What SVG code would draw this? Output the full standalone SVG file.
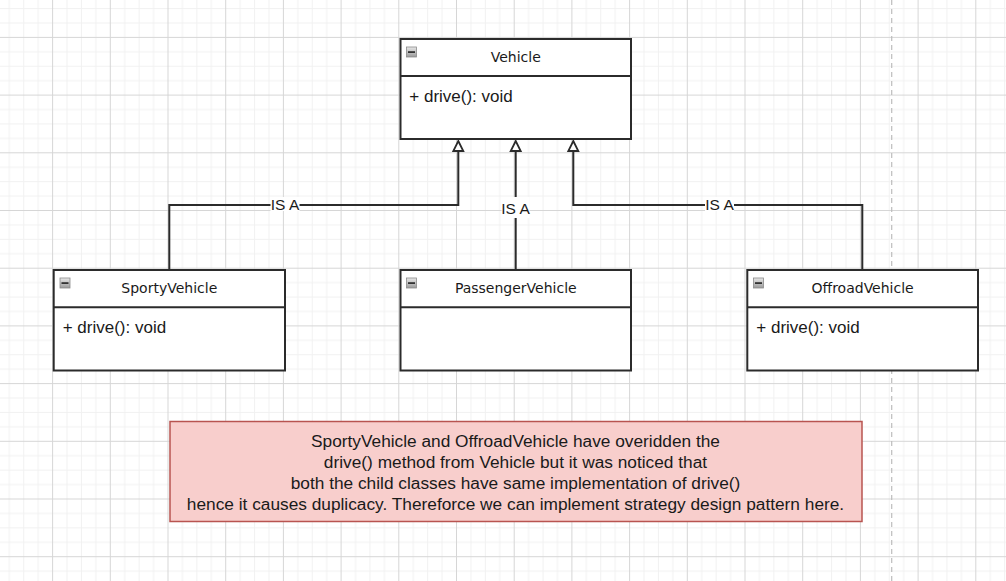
<svg xmlns="http://www.w3.org/2000/svg" width="1006" height="581" viewBox="0 0 1006 581">
  <defs>
    <pattern id="grid" x="52.1" y="36.9" width="57.7" height="57.7" patternUnits="userSpaceOnUse">
      <path d="M14.925 0V57.7M29.35 0V57.7M43.775 0V57.7M0 14.925H57.7M0 29.35H57.7M0 43.775H57.7" stroke="#f1f1f1" stroke-width="1" fill="none"/>
      <path d="M0.5 0V57.7M0 0.5H57.7" stroke="#d6d6d6" stroke-width="1" fill="none"/>
    </pattern>
    <linearGradient id="iconGrad" x1="0" y1="0" x2="0" y2="1">
      <stop offset="0" stop-color="#e8e8e8"/>
      <stop offset="1" stop-color="#9a9a9a"/>
    </linearGradient>
    <g id="minus">
      <rect x="0" y="0" width="10" height="10" fill="url(#iconGrad)" stroke="#8a8a8a" stroke-width="0.8"/>
      <rect x="1.5" y="4.2" width="7" height="1.8" fill="#333"/>
    </g>
    <path id="tri" d="M0 0 L5 10 L-5 10 Z"/>
  </defs>
  <style>
    .box { fill: #fff; stroke: #2b2b2b; stroke-width: 2; }
    .div { stroke: #2b2b2b; stroke-width: 2; fill: none; }
    .hdr { font-family: "DejaVu Sans", Verdana, sans-serif; font-size: 14px; fill: #1a1a1a; text-anchor: middle; }
    .attr { font-family: "Liberation Sans", Arial, sans-serif; font-size: 17px; fill: #1a1a1a; }
    .edge { fill: none; stroke: #2b2b2b; stroke-width: 2; }
    .arrow { fill: #fff; stroke: #2b2b2b; stroke-width: 1.8; stroke-linejoin: miter; }
    .lbl { font-family: "Liberation Sans", Arial, sans-serif; font-size: 15.5px; fill: #1a1a1a; text-anchor: middle; }
    .note { font-family: "Liberation Sans", Arial, sans-serif; font-size: 17.3px; fill: #1a1a1a; text-anchor: middle; }
  </style>

  <rect x="0" y="0" width="1006" height="581" fill="#fff"/>
  <rect x="0" y="0" width="1006" height="581" fill="url(#grid)"/>
  <line x1="891.7" y1="0" x2="891.7" y2="581" stroke="#bdbdbd" stroke-width="1.2" stroke-dasharray="5 4"/>

  <g id="connectors">
    <path class="edge" d="M169.3 270 V205 H458.3 V151"/>
    <path class="edge" d="M515.7 270 V151"/>
    <path class="edge" d="M862.3 270 V205 H573.3 V151"/>
    <use href="#tri" class="arrow" x="458.3" y="141"/>
    <use href="#tri" class="arrow" x="515.7" y="141"/>
    <use href="#tri" class="arrow" x="573.3" y="141"/>
    <rect x="270.5" y="197" width="29" height="14" fill="#fff"/>
    <text class="lbl" x="285" y="209.5">IS A</text>
    <rect x="501.5" y="197" width="28" height="21" fill="#fff"/>
    <text class="lbl" x="515.5" y="213.5">IS A</text>
    <rect x="705" y="197" width="29" height="14" fill="#fff"/>
    <text class="lbl" x="719.5" y="209.5">IS A</text>
  </g>

  <g id="Vehicle">
    <rect class="box" x="400.5" y="39" width="230.5" height="100"/>
    <line class="div" x1="400.5" y1="76" x2="631" y2="76"/>
    <use href="#minus" x="406.5" y="47"/>
    <text class="hdr" x="515.8" y="62">Vehicle</text>
    <text class="attr" x="409.3" y="102">+ drive(): void</text>
  </g>

  <g id="SportyVehicle">
    <rect class="box" x="53.7" y="270" width="231.3" height="100.5"/>
    <line class="div" x1="53.7" y1="307.3" x2="285" y2="307.3"/>
    <use href="#minus" x="60" y="278"/>
    <text class="hdr" x="169.3" y="293">SportyVehicle</text>
    <text class="attr" x="62.7" y="332.5">+ drive(): void</text>
  </g>

  <g id="PassengerVehicle">
    <rect class="box" x="400.5" y="270" width="230.5" height="100.5"/>
    <line class="div" x1="400.5" y1="307.3" x2="631" y2="307.3"/>
    <use href="#minus" x="406.5" y="278"/>
    <text class="hdr" x="515.8" y="293">PassengerVehicle</text>
  </g>

  <g id="OffroadVehicle">
    <rect class="box" x="747.3" y="270" width="230.7" height="100.5"/>
    <line class="div" x1="747.3" y1="307.3" x2="978" y2="307.3"/>
    <use href="#minus" x="753.5" y="278"/>
    <text class="hdr" x="862.6" y="293">OffroadVehicle</text>
    <text class="attr" x="756.3" y="332.5">+ drive(): void</text>
  </g>

  <g id="Note">
    <rect x="170" y="421.5" width="692" height="100" fill="#f8cecc" stroke="#b85450" stroke-width="1.5"/>
    <text class="note" x="515.5" y="447">SportyVehicle and OffroadVehicle have overidden the</text>
    <text class="note" x="515.5" y="468">drive() method from Vehicle but it was noticed that</text>
    <text class="note" x="515.5" y="489">both the child classes have same implementation of drive()</text>
    <text class="note" x="515.5" y="510">hence it causes duplicacy. Thereforce we can implement strategy design pattern here.</text>
  </g>
</svg>
